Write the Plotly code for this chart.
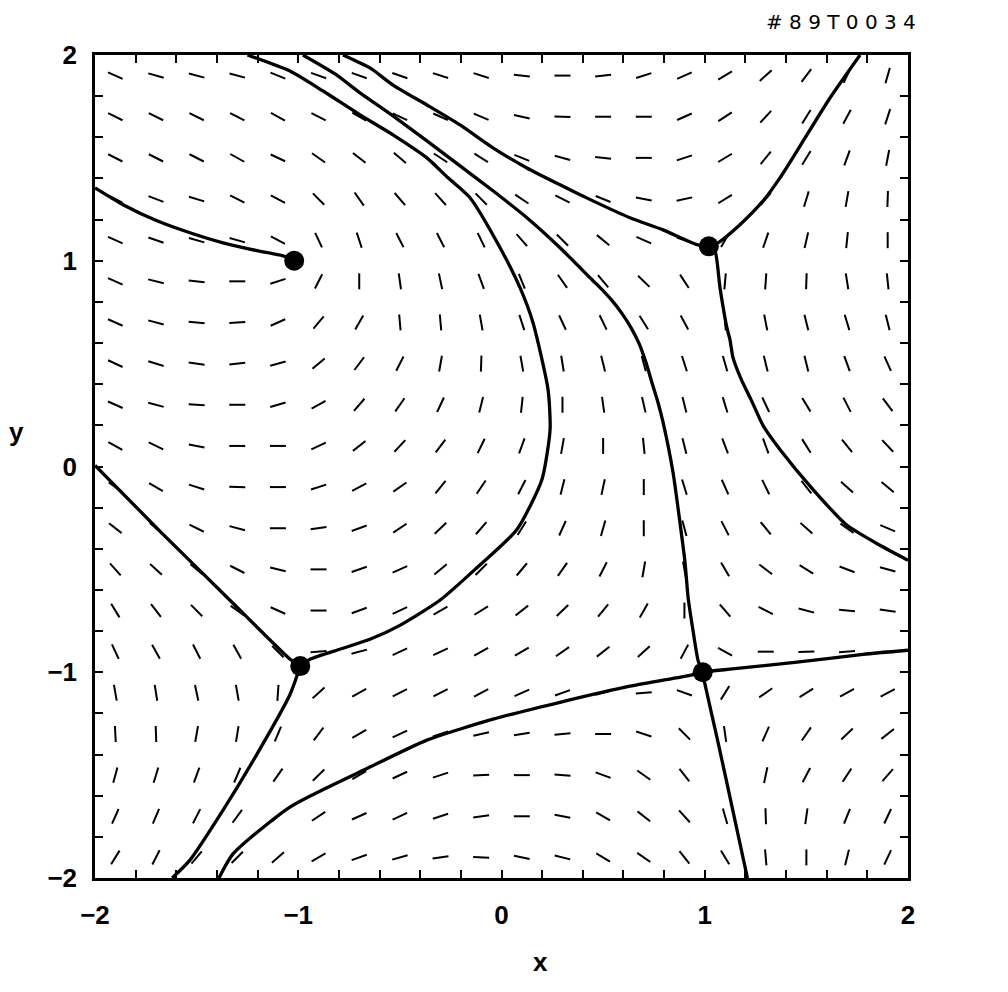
import math
import plotly.graph_objects as go

# ---------------- data ----------------
# centres of the direction-field dashes
grid_x = [-1.9, -1.7, -1.5, -1.3, -1.1, -0.9, -0.7, -0.5, -0.3, -0.1,
          0.1, 0.3, 0.5, 0.7, 0.9, 1.1, 1.3, 1.5, 1.7, 1.9]
grid_y = [1.9, 1.7, 1.5, 1.3, 1.1, 0.9, 0.7, 0.5, 0.3, 0.1,
          -0.1, -0.3, -0.5, -0.7, -0.9, -1.1, -1.3, -1.5, -1.7, -1.9]

# dash angle (degrees from +x) for each grid point, one row per grid_y value
angles = [
    [-24, -16, -15, -15, -22, -20, -20, -19, -18, -18, -6, 0, 6, 18, 24, 31, 42, 53, 65, 74],
    [-26, -26, -26, -27, -29, -27, -30, -25, -24, -23, -13, -2, 0, 0, 24, 33, 47, 58, 62, 72],
    [-27, -27, -27, -29, -25, -35, -38, -41, -33, -32, -22, -15, -7, 0, 18, 31, 51, 58, 70, 79],
    [-27, -21, -17, -27, -28, -45, -55, -49, -48, -45, -34, -27, -22, -11, 12, 32, 50, 73, 80, 88],
    [-24, -19, -16, -16, -28, -65, -72, -63, -63, -64, -49, -45, -39, -24, -20, 60, 71, 77, 84, 90],
    [-24, -14, -6, 0, 18, 63, 90, -82, -78, -70, -68, -55, -50, -44, -57, 85, 86, 88, -81, -84],
    [-24, -15, -5, 3, 24, 50, 60, -85, -85, -80, -72, -65, -64, -58, -62, -85, -79, -76, -73, -76],
    [-25, -17, -8, 6, 16, 40, 53, 63, 80, 88, -80, -81, -76, -75, -72, -74, -76, -76, -70, -66],
    [-24, -15, -3, 0, 16, 29, 49, 55, 65, 76, 84, 90, -82, -77, -76, -73, -65, -59, -63, -53],
    [-29, -26, -11, 0, 0, 25, 38, 47, 53, 64, 70, 80, 90, -84, -76, -69, -70, -58, -51, -47],
    [-35, -30, -18, -2, 0, 18, 28, 35, 51, 56, 63, 76, 78, 90, -73, -66, -64, -52, -42, -40],
    [-38, -40, -26, -15, 0, 8, 20, 34, 44, 49, 58, 66, 74, 90, -75, -63, -51, -42, -35, -23],
    [-48, -43, -40, -27, -14, 0, 19, 24, 39, 45, 50, 55, 63, 80, -80, -60, -37, -32, -21, -15],
    [-59, -52, -45, -35, -24, 0, 20, 25, 30, 32, 38, 44, 51, 60, 90, -49, -27, -15, -6, -8],
    [-65, -61, -63, -61, -45, 5, 15, 25, 25, 29, 30, 35, 38, 42, 62, -29, 0, 2, 4, 3],
    [-80, -81, -78, -80, 86, 42, 29, 27, 27, 28, 24, 20, 15, 5, -20, 58, 35, 32, 29, 28],
    [-87, -88, 80, 81, 67, 53, 30, 25, 18, 13, 9, 5, 0, -18, -45, -82, 66, 55, 44, 38],
    [75, 73, 70, 67, 55, 44, 30, 25, 18, 3, 0, -5, -20, -35, -52, -75, 78, 62, 57, 49],
    [66, 67, 63, 54, 41, 34, 24, 25, 18, 8, 0, -11, -30, -38, -48, -74, -88, 82, 68, 65],
    [58, 63, 50, 45, 41, 30, 20, 16, 8, -3, -12, -14, -31, -35, -52, -59, -85, 90, 76, 65],
]

# special points (filled dots)
dots_x = [-1.02, -0.99, 1.02, 0.99]
dots_y = [1.00, -0.97, 1.07, -1.00]

# curves
c1_x = [-2.0, -1.862, -1.695, -1.533, -1.370, -1.203, -1.075, -1.02]
c1_y = [1.354, 1.272, 1.194, 1.136, 1.087, 1.049, 1.024, 1.00]

c2_x = [-2.0, -1.675, -1.336, -1.04, -0.99]
c2_y = [0.005, -0.32, -0.650, -0.937, -0.97]

c3_x = [-0.99, -1.04, -1.203, -1.370, -1.533, -1.62]
c3_y = [-0.97, -1.107, -1.398, -1.670, -1.913, -2.0]

c4_x = [-0.99, -0.942, -0.795, -0.647, -0.500, -0.303, -0.130, 0.076, 0.199, 0.239,
        0.229, 0.155, 0.091, -0.007, -0.155, -0.263, -0.367, -0.534, -0.696, -0.878, -1.041, -1.25]
c4_y = [-0.97, -0.937, -0.888, -0.840, -0.772, -0.650, -0.500, -0.306, -0.063, 0.180,
        0.374, 0.699, 0.869, 1.063, 1.306, 1.403, 1.500, 1.612, 1.709, 1.825, 1.922, 2.0]

c5_x = [-0.977, -0.819, -0.696, -0.534, -0.367, -0.204, -0.042, 0.125, 0.288, 0.450,
        0.485, 0.544, 0.593, 0.637, 0.677, 0.711, 0.740, 0.770, 0.795,
        0.844, 0.878, 0.903, 0.918, 0.942, 0.967, 0.99]
c5_y = [2.0, 1.908, 1.816, 1.704, 1.583, 1.461, 1.340, 1.209, 1.063, 0.903,
        0.869, 0.806, 0.743, 0.675, 0.597, 0.505, 0.408, 0.311, 0.214,
        -0.029, -0.272, -0.466, -0.636, -0.796, -0.942, -1.0]

c6_x = [-0.780, -0.647, -0.534, -0.367, -0.204, -0.042, 0.125, 0.288, 0.450, 0.632, 0.795, 0.962, 1.02]
c6_y = [2.0, 1.937, 1.854, 1.757, 1.660, 1.549, 1.451, 1.369, 1.291, 1.209, 1.150, 1.078, 1.07]

c7_x = [1.02, 1.065, 1.173, 1.287, 1.370, 1.454, 1.616, 1.764]
c7_y = [1.07, 1.087, 1.175, 1.291, 1.403, 1.534, 1.791, 2.0]

c8_x = [1.02, 1.050, 1.075, 1.109, 1.124, 1.139, 1.180, 1.230, 1.287, 1.370, 1.533, 1.700, 1.862, 2.0]
c8_y = [1.07, 1.049, 0.869, 0.675, 0.617, 0.529, 0.422, 0.320, 0.199, 0.083, -0.112, -0.286, -0.383, -0.456]

c9_x = [-1.39, -1.321, -1.041, -0.647, -0.367, -0.042, 0.288, 0.632, 0.927, 0.99,
        1.124, 1.454, 1.779, 2.0]
c9_y = [-2.0, -1.883, -1.655, -1.461, -1.330, -1.228, -1.146, -1.068, -1.015, -1.0,
        -0.985, -0.951, -0.913, -0.893]

c10_x = [0.99, 1.001, 1.060, 1.124, 1.21]
c10_y = [-1.0, -1.058, -1.316, -1.607, -2.0]

curves = [(c1_x, c1_y), (c2_x, c2_y), (c3_x, c3_y), (c4_x, c4_y), (c5_x, c5_y),
          (c6_x, c6_y), (c7_x, c7_y), (c8_x, c8_y), (c9_x, c9_y), (c10_x, c10_y)]

tick_vals = [round(-2 + 0.2 * k, 1) for k in range(21)]
tick_labels = {-2: "\u22122", -1: "\u22121", 0: "0", 1: "1", 2: "2"}

# ---------------- styling / geometry ----------------
W, H = 1008, 992
OFF = 8                       # default page body margin
ML, MT = 95 - OFF, 55 - OFF
PW, PH = 813, 823             # plot area in px
MR, MB = W - ML - PW, H - MT - PH
PX_X = PW / 4.0               # pixels per data unit
PX_Y = PH / 4.0
HALF_DASH = 8.0               # px


def paper_x(px):
    return (px - OFF - ML) / PW


def paper_y(py):
    return (MT + PH - (py - OFF)) / PH


fig = go.Figure()

# direction-field dashes
sx, sy = [], []
for j, yc in enumerate(grid_y):
    for i, xc in enumerate(grid_x):
        a = math.radians(angles[j][i])
        dx = HALF_DASH * math.cos(a) / PX_X
        dy = HALF_DASH * math.sin(a) / PX_Y
        sx += [xc - dx, xc + dx, None]
        sy += [yc - dy, yc + dy, None]
fig.add_trace(go.Scatter(x=sx, y=sy, mode="lines",
                         line=dict(color="black", width=2),
                         hoverinfo="skip", showlegend=False))

for cx, cy in curves:
    fig.add_trace(go.Scatter(x=cx, y=cy, mode="lines",
                             line=dict(color="black", width=3.3, shape="spline", smoothing=0.6),
                             hoverinfo="skip", showlegend=False))

fig.add_trace(go.Scatter(x=dots_x, y=dots_y, mode="markers",
                         marker=dict(color="black", size=20),
                         hoverinfo="skip", showlegend=False))

axis_common = dict(
    range=[-2, 2], showgrid=False, zeroline=False,
    showline=True, linecolor="black", linewidth=2.5, mirror="ticks",
    ticks="inside", ticklen=8, tickwidth=1.5, tickcolor="black",
    tickmode="array", tickvals=tick_vals,
    ticktext=[tick_labels.get(int(round(v)), "") if abs(v - round(v)) < 1e-9 else "" for v in tick_vals],
    tickfont=dict(family="Liberation Sans", size=26, color="black", weight="bold"),
)

fig.update_layout(
    width=W, height=H,
    margin=dict(l=ML, r=MR, t=MT, b=MB, autoexpand=False),
    paper_bgcolor="white", plot_bgcolor="white",
    xaxis=dict(**axis_common, ticklabelstandoff=12),
    yaxis=dict(**axis_common, ticklabelstandoff=10),
    showlegend=False,
    annotations=[
        dict(text="<b>x</b>", x=paper_x(540), y=paper_y(962),
             xanchor="center", yanchor="middle",
             xref="paper", yref="paper", showarrow=False,
             font=dict(family="Liberation Sans", size=26, color="black")),
        dict(text="<b>y</b>", x=paper_x(16), y=paper_y(432),
             xanchor="center", yanchor="middle",
             xref="paper", yref="paper", showarrow=False,
             font=dict(family="Liberation Sans", size=26, color="black")),
        dict(text="# 8 9 T 0 0 3 4", x=paper_x(841), y=paper_y(22),
             xanchor="center", yanchor="middle",
             xref="paper", yref="paper", showarrow=False,
             font=dict(family="DejaVu Sans", size=20, color="black")),
    ],
)

fig.write_html("out.html")
